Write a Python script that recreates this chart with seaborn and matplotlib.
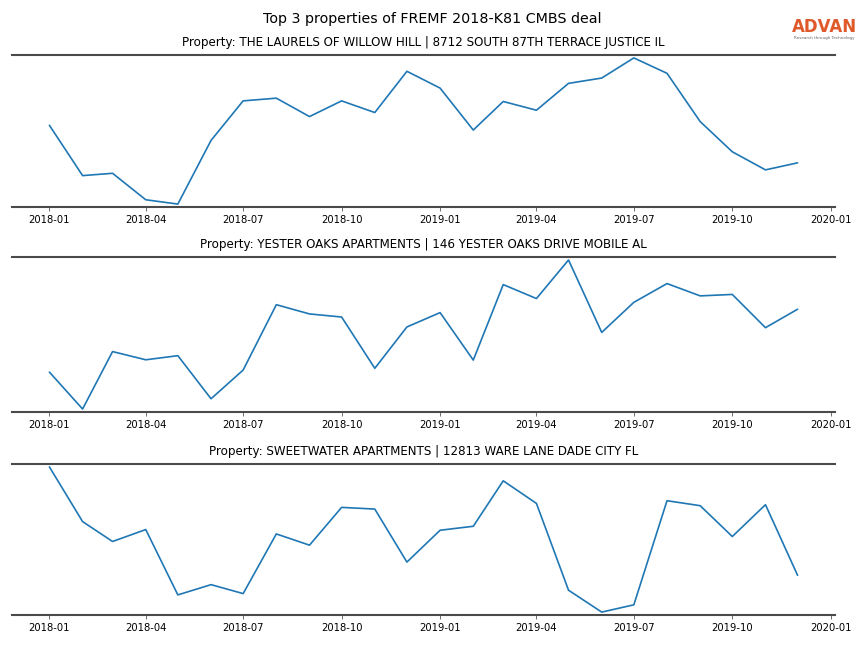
import pandas as pd
import matplotlib
matplotlib.use("Agg")
import matplotlib.pyplot as plt
import matplotlib.dates as mdates
import seaborn as sns


months = pd.date_range("2018-01-01", "2019-12-01", freq="MS")

titles = [
    "Property: THE LAURELS OF WILLOW HILL | 8712 SOUTH 87TH TERRACE JUSTICE IL",
    "Property: YESTER OAKS APARTMENTS | 146 YESTER OAKS DRIVE MOBILE AL",
    "Property: SWEETWATER APARTMENTS | 12813 WARE LANE DADE CITY FL",
]

# relative monthly activity (no y scale shown)
laurels = [81, 31, 33.3, 7, 2.7, 66, 105.3, 108, 89.7, 105.3, 93.7, 134.7,
           118, 76.3, 104.7, 96, 122.7, 128, 148, 132.7, 84.7, 54.7, 36.7, 43.7]
yester_oaks = [40, 4, 60, 52, 56, 14, 42, 105.7, 96.7, 93.7, 43.7, 84,
               98, 51.7, 125.3, 111.7, 149.3, 78.7, 108, 126.3, 114.3, 115.7, 83.3, 101.3]
sweetwater = [148.7, 93.7, 73.7, 85.7, 20, 30.3, 21.3, 81.3, 70, 108, 106.3, 53,
              85, 89, 134.7, 112, 24.7, 2.7, 10, 114.7, 109.7, 78.7, 110.7, 39.7]

SPINE_GREY = "#4a4a4a"
ADVAN_ORANGE = "#E0592A"

# axes boxes in pixels (top, bottom) on the 864x648 canvas
AX_ROWS = [(55, 207), (257, 412), (464, 615)]


if __name__ == "__main__":
    sns.set_style("white")
    plt.rcParams["font.family"] = ["DejaVu Sans"]
    plt.rcParams["text.color"] = "black"

    fig, axes = plt.subplots(3, 1, figsize=(8.64, 6.48), dpi=100)

    for ax, (top, bottom), title, values in zip(
        axes, AX_ROWS, titles, [laurels, yester_oaks, sweetwater]
    ):
        ax.set_position([12 / 864, 1 - bottom / 648, 823 / 864, (bottom - top) / 648])

        df = pd.DataFrame({"month": months, "visits": values})
        sns.lineplot(data=df, x="month", y="visits", ax=ax, color="#1f77b4", linewidth=1.2)

        ax.set_title(title, fontsize=8.6, pad=6.5, color="black")
        ax.set_xlabel("")
        ax.set_ylabel("")
        ax.set_yticks([])
        ax.margins(x=0.05, y=0.02)

        ax.xaxis.set_major_locator(mdates.MonthLocator(bymonth=[1, 4, 7, 10]))
        ax.xaxis.set_major_formatter(mdates.DateFormatter("%Y-%m"))
        ax.tick_params(axis="x", labelsize=7.2, length=3, width=0.6,
                       color="#555555", labelcolor="black", bottom=True, pad=3)

        for side in ["left", "right"]:
            ax.spines[side].set_visible(False)
        for side in ["top", "bottom"]:
            ax.spines[side].set_color(SPINE_GREY)
            ax.spines[side].set_linewidth(1.5)

    fig.suptitle("Top 3 properties of FREMF 2018-K81 CMBS deal", fontsize=10.3,
                 y=0.982, color="black")

    # ADVAN logo as text
    fig.text(0.954, 0.958, "ADVAN", color=ADVAN_ORANGE, fontsize=12,
             fontweight="bold", ha="center", va="center")
    fig.text(0.954, 0.941, "Research through Technology", color="#666666",
             fontsize=3, ha="center", va="center")

    plt.savefig("out.png", dpi=100)
    plt.close()
